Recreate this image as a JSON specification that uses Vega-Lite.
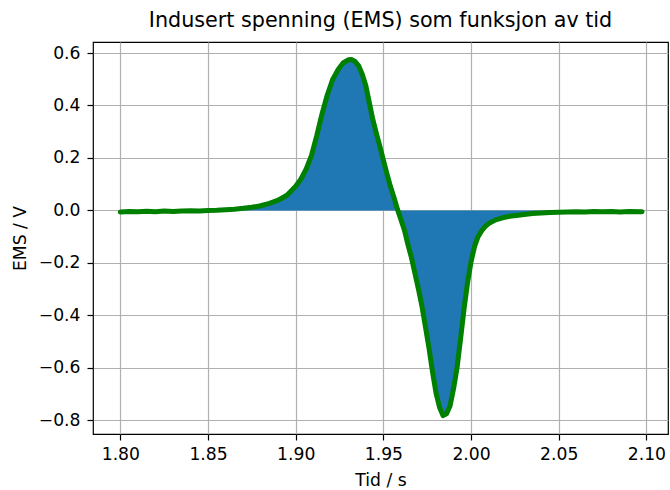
{
  "$schema": "https://vega.github.io/schema/vega-lite/v6.json",
  "width": 575,
  "height": 392,
  "autosize": {"type": "none"},
  "padding": {"left": 93, "top": 42, "right": 2, "bottom": 56},
  "background": "white",
  "title": {
    "text": "Indusert spenning (EMS) som funksjon av tid",
    "font": "DejaVu Sans",
    "fontSize": 20.7,
    "fontWeight": "normal",
    "color": "#000000",
    "offset": 10,
    "anchor": "middle"
  },
  "config": {
    "view": {"stroke": "#000000", "strokeWidth": 1.2},
    "axis": {
      "domain": false,
      "grid": true,
      "gridColor": "#b0b0b0",
      "gridWidth": 1.2,
      "tickColor": "#000000",
      "tickSize": 6,
      "tickWidth": 1.2,
      "labelFont": "DejaVu Sans",
      "labelFontSize": 17.2,
      "labelColor": "#000000",
      "titleFont": "DejaVu Sans",
      "titleFontSize": 17.2,
      "titleFontWeight": "normal",
      "titleColor": "#000000",
      "zindex": 1
    }
  },
  "data": {
    "values": [
      {"t": 1.800, "ems": -0.006},
      {"t": 1.805, "ems": -0.004},
      {"t": 1.810, "ems": -0.005},
      {"t": 1.815, "ems": -0.003},
      {"t": 1.820, "ems": -0.005},
      {"t": 1.825, "ems": -0.002},
      {"t": 1.830, "ems": -0.004},
      {"t": 1.835, "ems": -0.002},
      {"t": 1.840, "ems": -0.001},
      {"t": 1.845, "ems": -0.002},
      {"t": 1.850, "ems": 0.000},
      {"t": 1.855, "ems": 0.001},
      {"t": 1.860, "ems": 0.003},
      {"t": 1.865, "ems": 0.005},
      {"t": 1.870, "ems": 0.008},
      {"t": 1.875, "ems": 0.012},
      {"t": 1.880, "ems": 0.018},
      {"t": 1.885, "ems": 0.027},
      {"t": 1.890, "ems": 0.039},
      {"t": 1.895, "ems": 0.058},
      {"t": 1.900, "ems": 0.092},
      {"t": 1.903, "ems": 0.120},
      {"t": 1.906, "ems": 0.158},
      {"t": 1.909, "ems": 0.210},
      {"t": 1.912, "ems": 0.285},
      {"t": 1.915, "ems": 0.368},
      {"t": 1.918, "ems": 0.440},
      {"t": 1.921, "ems": 0.498},
      {"t": 1.924, "ems": 0.535},
      {"t": 1.927, "ems": 0.562},
      {"t": 1.930, "ems": 0.574},
      {"t": 1.932, "ems": 0.575},
      {"t": 1.934, "ems": 0.567},
      {"t": 1.936, "ems": 0.550},
      {"t": 1.938, "ems": 0.518},
      {"t": 1.940, "ems": 0.475},
      {"t": 1.942, "ems": 0.410},
      {"t": 1.944, "ems": 0.346},
      {"t": 1.946, "ems": 0.294},
      {"t": 1.948, "ems": 0.244},
      {"t": 1.950, "ems": 0.192},
      {"t": 1.952, "ems": 0.140},
      {"t": 1.954, "ems": 0.092},
      {"t": 1.956, "ems": 0.050},
      {"t": 1.958, "ems": 0.005},
      {"t": 1.960, "ems": -0.035},
      {"t": 1.962, "ems": -0.075},
      {"t": 1.964, "ems": -0.130},
      {"t": 1.966, "ems": -0.180},
      {"t": 1.968, "ems": -0.240},
      {"t": 1.970, "ems": -0.300},
      {"t": 1.972, "ems": -0.365},
      {"t": 1.974, "ems": -0.445},
      {"t": 1.976, "ems": -0.525},
      {"t": 1.978, "ems": -0.615},
      {"t": 1.980, "ems": -0.695},
      {"t": 1.982, "ems": -0.750},
      {"t": 1.984, "ems": -0.782},
      {"t": 1.986, "ems": -0.775},
      {"t": 1.988, "ems": -0.745},
      {"t": 1.990, "ems": -0.680},
      {"t": 1.992, "ems": -0.600},
      {"t": 1.994, "ems": -0.490},
      {"t": 1.996, "ems": -0.375},
      {"t": 1.998, "ems": -0.275},
      {"t": 2.000, "ems": -0.195},
      {"t": 2.002, "ems": -0.137},
      {"t": 2.004, "ems": -0.100},
      {"t": 2.006, "ems": -0.078},
      {"t": 2.008, "ems": -0.062},
      {"t": 2.010, "ems": -0.050},
      {"t": 2.014, "ems": -0.036},
      {"t": 2.018, "ems": -0.028},
      {"t": 2.022, "ems": -0.022},
      {"t": 2.028, "ems": -0.017},
      {"t": 2.035, "ems": -0.012},
      {"t": 2.040, "ems": -0.010},
      {"t": 2.045, "ems": -0.008},
      {"t": 2.050, "ems": -0.007},
      {"t": 2.055, "ems": -0.006},
      {"t": 2.060, "ems": -0.005},
      {"t": 2.065, "ems": -0.006},
      {"t": 2.070, "ems": -0.004},
      {"t": 2.075, "ems": -0.005},
      {"t": 2.080, "ems": -0.004},
      {"t": 2.085, "ems": -0.006},
      {"t": 2.090, "ems": -0.004},
      {"t": 2.0975, "ems": -0.005}
    ]
  },
  "encoding": {
    "x": {
      "field": "t",
      "type": "quantitative",
      "scale": {"domain": [1.7844, 2.1123], "nice": false, "zero": false},
      "axis": {"title": "Tid / s", "values": [1.8, 1.85, 1.9, 1.95, 2.0, 2.05, 2.1], "format": ".2f", "labelPadding": 5, "titlePadding": 9}
    },
    "y": {
      "field": "ems",
      "type": "quantitative",
      "scale": {"domain": [-0.852, 0.642], "nice": false, "zero": false},
      "axis": {"title": "EMS / V", "values": [-0.8, -0.6, -0.4, -0.2, 0, 0.2, 0.4, 0.6], "format": ".1f", "labelPadding": 7, "titlePadding": 9}
    }
  },
  "layer": [
    {
      "mark": {"type": "area", "color": "#1f77b4", "opacity": 1},
      "encoding": {"y2": {"datum": 0}}
    },
    {
      "mark": {"type": "line", "color": "#008000", "strokeWidth": 5, "strokeJoin": "round", "strokeCap": "round"}
    }
  ]
}
